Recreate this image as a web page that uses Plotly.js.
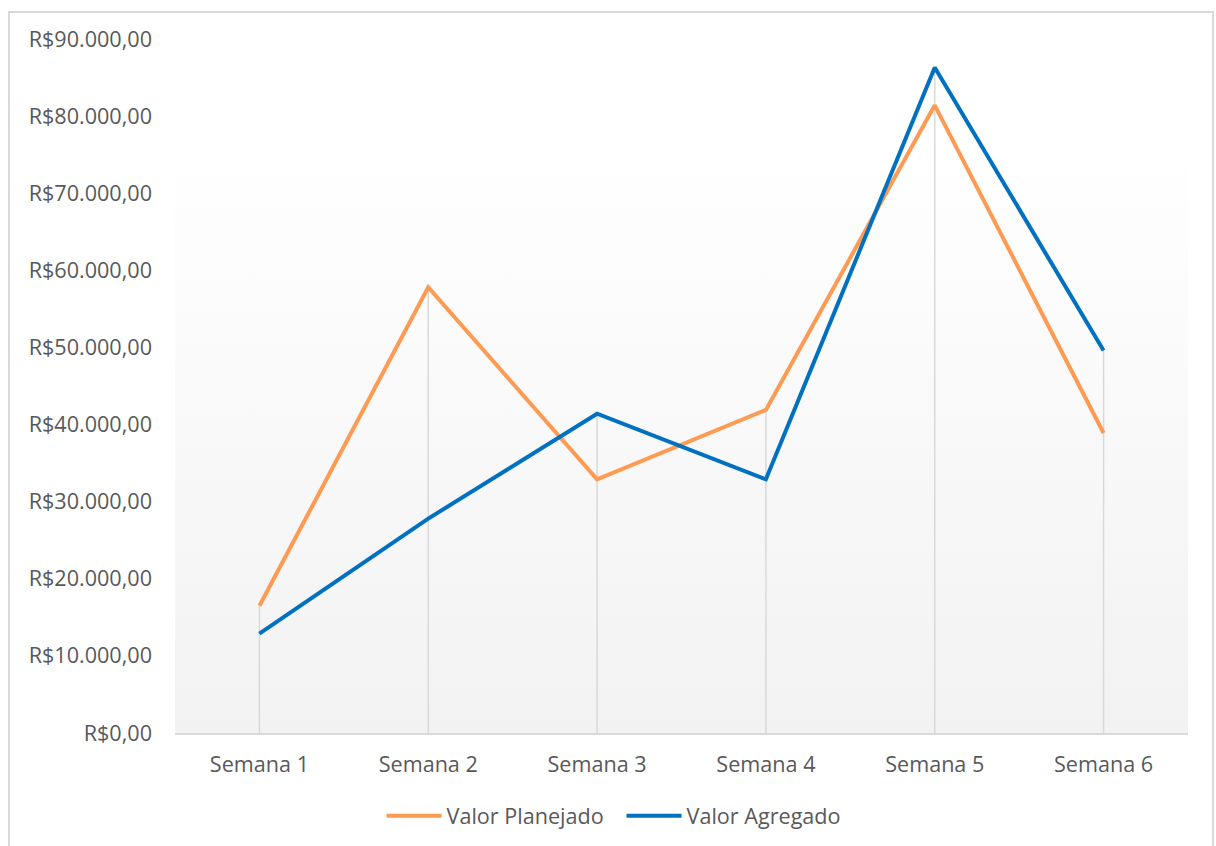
<!DOCTYPE html>
<html>
<head>
<meta charset="utf-8">
<script src="https://cdn.plot.ly/plotly-3.0.1.min.js"></script>
<style>
  html, body { margin: 0; padding: 0; background: #ffffff; }
  #frame { position: absolute; left: 8px; top: 11px; width: 1206px; height: 840px; border: 2px solid #d9d9d9; box-sizing: border-box; }
  #chart { position: absolute; left: 0; top: 0; width: 1216px; height: 846px; }
</style>
</head>
<body>
<div id="frame"></div>
<div id="chart"></div>
<script>
// Weekly values (R$)
const semanas = ["Semana 1", "Semana 2", "Semana 3", "Semana 4", "Semana 5", "Semana 6"];
const valorPlanejado = [16500, 57800, 32900, 41900, 81400, 38900];
const valorAgregado = [12900, 27800, 41400, 32900, 86300, 49600];

// Y-axis ticks
const yTickVals = [0, 10000, 20000, 30000, 40000, 50000, 60000, 70000, 80000, 90000];
const yTickText = ["R$0,00", "R$10.000,00", "R$20.000,00", "R$30.000,00", "R$40.000,00",
                   "R$50.000,00", "R$60.000,00", "R$70.000,00", "R$80.000,00", "R$90.000,00"];

// Drop lines: from the higher of the two series down to zero at each week
const dropX = [], dropY = [];
semanas.forEach((s, i) => {
  dropX.push(s, s, null);
  dropY.push(Math.max(valorPlanejado[i], valorAgregado[i]), 0, null);
});

// Plot-area background: white at the top fading to light grey at the bottom
const gradientSvg =
  '<svg xmlns="http://www.w3.org/2000/svg" width="10" height="100" preserveAspectRatio="none">' +
  '<defs><linearGradient id="g" x1="0" y1="0" x2="0" y2="1">' +
  '<stop offset="0" stop-color="#ffffff"/><stop offset="0.15" stop-color="#ffffff"/>' +
  '<stop offset="1" stop-color="#f2f2f2"/>' +
  '</linearGradient></defs><rect width="10" height="100" fill="url(#g)"/></svg>';
const gradientUri = 'data:image/svg+xml;base64,' + btoa(gradientSvg);

const traces = [
  {
    x: dropX, y: dropY, mode: 'lines', type: 'scatter',
    line: { color: '#d9d9d9', width: 1.5 },
    hoverinfo: 'skip', showlegend: false
  },
  {
    x: semanas, y: valorPlanejado, name: 'Valor Planejado', mode: 'lines', type: 'scatter',
    line: { color: '#ff9a52', width: 4, shape: 'linear' }
  },
  {
    x: semanas, y: valorAgregado, name: 'Valor Agregado', mode: 'lines', type: 'scatter',
    line: { color: '#0070c0', width: 4, shape: 'linear' }
  }
];

const font = { family: '"Open Sans", "Noto Sans", sans-serif', size: 21.6, color: '#595959' };

const layout = {
  width: 1216, height: 846,
  margin: { l: 175, r: 28, t: 39, b: 113, autoexpand: false },
  paper_bgcolor: 'rgba(0,0,0,0)',
  plot_bgcolor: 'rgba(0,0,0,0)',
  font: font,
  images: [{
    source: gradientUri, xref: 'paper', yref: 'paper',
    x: 0, y: 1, sizex: 1, sizey: 1, xanchor: 'left', yanchor: 'top',
    sizing: 'stretch', layer: 'below'
  }],
  xaxis: {
    type: 'category', range: [-0.5, 5.5],
    showgrid: false, zeroline: false,
    showline: true, linecolor: '#d9d9d9', linewidth: 2,
    ticks: '', ticklabelstandoff: 11,
    tickfont: font, fixedrange: true
  },
  yaxis: {
    range: [0, 90000],
    tickvals: yTickVals, ticktext: yTickText,
    showgrid: false, zeroline: false, showline: false,
    ticks: '', ticklabelstandoff: 22,
    tickfont: font, fixedrange: true
  },
  legend: {
    orientation: 'h', x: 0.2039, xanchor: 'left', y: -0.12, yanchor: 'middle',
    font: font, bgcolor: 'rgba(0,0,0,0)', entrywidth: 170, entrywidthmode: 'pixels',
    itemwidth: 55, tracegroupgap: 0
  },
  showlegend: true
};

Plotly.newPlot('chart', traces, layout, { displayModeBar: false, staticPlot: true });
</script>
</body>
</html>
